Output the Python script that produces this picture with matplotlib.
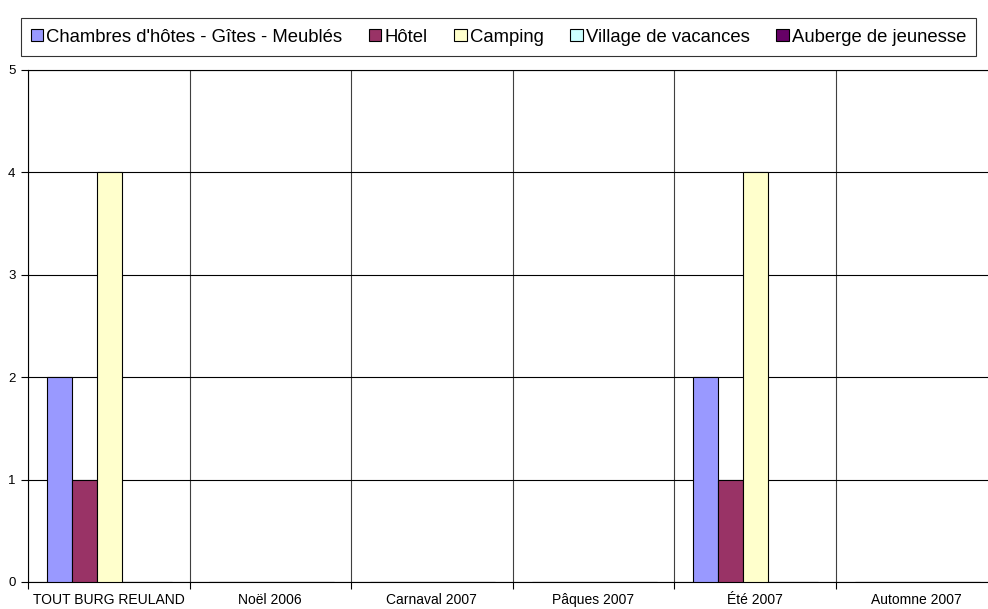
import matplotlib
matplotlib.use("Agg")
import matplotlib.pyplot as plt
from matplotlib.patches import Patch
import numpy as np

plt.rcParams['font.family'] = ['Liberation Sans', 'DejaVu Sans']

categories = ["TOUT BURG REULAND", "Noël 2006", "Carnaval 2007", "Pâques 2007", "Été 2007", "Automne 2007"]
series_names = ["Chambres d'hôtes - Gîtes - Meublés", "Hôtel", "Camping", "Village de vacances", "Auberge de jeunesse"]
chambres = [2, 0, 0, 0, 2, 0]
hotel = [1, 0, 0, 0, 1, 0]
camping = [4, 0, 0, 0, 4, 0]
village = [0, 0, 0, 0, 0, 0]
auberge = [0, 0, 0, 0, 0, 0]
colors = ["#9999FF", "#993366", "#FFFFCC", "#CCFFFF", "#660066"]
y_ticks = [0, 1, 2, 3, 4, 5]

values = [chambres, hotel, camping, village, auberge]

fig = plt.figure(figsize=(9.88, 6.09), dpi=100)
W, H = 988, 609
ax = fig.add_axes([28 / W, (H - 582) / H, (997 - 28) / W, (582 - 70) / H])

n = len(categories)
bw = 0.155
x = np.arange(n)
for i, (vals, c) in enumerate(zip(values, colors)):
    offs = (i - 2) * bw + 0.007
    ax.bar(x + offs, vals, width=bw, color=c, edgecolor="black", linewidth=0.8, zorder=3)

ax.set_xlim(-0.5, n - 0.5)
ax.set_ylim(0, 5)
ax.set_yticks(y_ticks)
ax.set_yticklabels([str(v) for v in y_ticks], fontsize=9.5)
ax.set_xticks(x)
ax.set_xticklabels(categories, fontsize=10)
ax.tick_params(axis='x', length=0, pad=8)
ax.set_xticks(np.arange(n + 1) - 0.5, minor=True)
ax.tick_params(axis='x', which='minor', length=5, width=0.8, direction='out')
ax.tick_params(axis='y', length=5, width=0.8, direction='out', pad=4)

ax.grid(axis='y', color='black', linewidth=0.8, zorder=0)
ax.grid(axis='x', which='minor', color='#404040', linewidth=0.8, zorder=0)
for s in ax.spines.values():
    s.set_color('black')
    s.set_linewidth(0.8)

handles = [Patch(facecolor=c, edgecolor='black', linewidth=0.8, label=nm) for c, nm in zip(colors, series_names)]
leg = fig.legend(handles=handles, ncol=5, loc='center',
                 bbox_to_anchor=(23 / W, 1 - 56 / H, (974 - 23) / W, 38 / H),
                 fontsize=13.3, frameon=True, fancybox=False,
                 handlelength=0.66, handleheight=0.66, handletextpad=0.17,
                 columnspacing=1.45, borderaxespad=0, borderpad=0.55)
leg.get_frame().set_edgecolor('black')
leg.get_frame().set_linewidth(0.8)

fig.savefig("out.png", dpi=100)
